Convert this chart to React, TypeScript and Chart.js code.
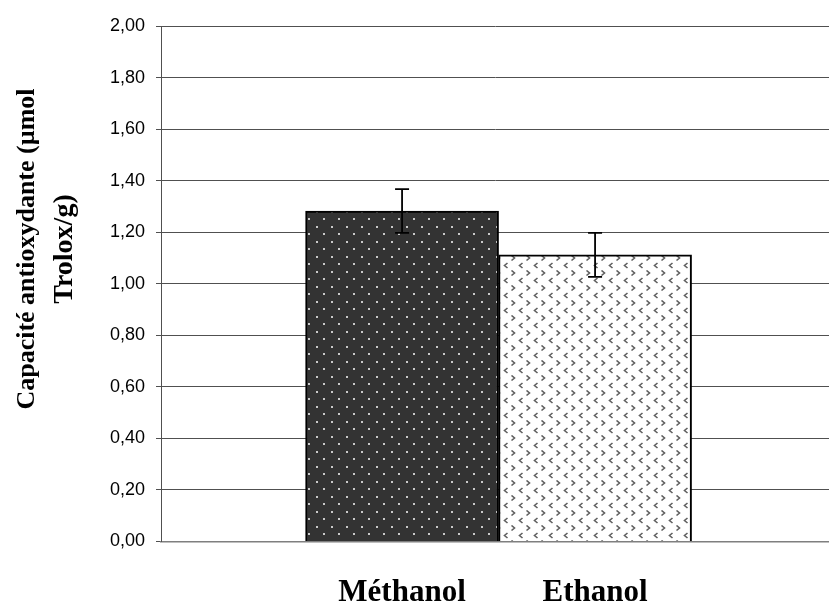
import React, { useEffect, useRef } from 'react';
import { Chart, registerables } from 'chart.js';

Chart.register(...registerables);

const categories = ['Méthanol', 'Ethanol'];
const values = [1.282, 1.112];
const errors = [0.085, 0.085];
const yTickLabels = ['0,00', '0,20', '0,40', '0,60', '0,80', '1,00', '1,20', '1,40', '1,60', '1,80', '2,00'];
const yTitleLines = ['Capacité antioxydante (µmol', 'Trolox/g)'];

function makeDotPattern(ctx: CanvasRenderingContext2D): CanvasPattern | string {
  const c = document.createElement('canvas');
  c.width = 15;
  c.height = 15;
  const g = c.getContext('2d')!;
  g.fillStyle = '#333333';
  g.fillRect(0, 0, 15, 15);
  g.fillStyle = '#bfbfbf';
  g.fillRect(1, 1, 2, 2);
  g.fillRect(8, 8, 2, 2);
  g.fillStyle = '#e6e6e6';
  g.fillRect(1.5, 1.5, 1, 1);
  g.fillRect(8.5, 8.5, 1, 1);
  return ctx.createPattern(c, 'repeat') || '#333333';
}

function makeChevronPattern(ctx: CanvasRenderingContext2D): CanvasPattern | string {
  const c = document.createElement('canvas');
  c.width = 15;
  c.height = 15;
  const g = c.getContext('2d')!;
  g.fillStyle = '#ffffff';
  g.fillRect(0, 0, 15, 15);
  g.strokeStyle = '#606060';
  g.lineWidth = 1.6;
  // ">" mark
  g.beginPath();
  g.moveTo(1.5, 0.5);
  g.lineTo(4.5, 3);
  g.lineTo(1.5, 5.5);
  g.stroke();
  // "<" mark
  g.beginPath();
  g.moveTo(12.5, 8);
  g.lineTo(9.5, 10.5);
  g.lineTo(12.5, 13);
  g.stroke();
  return ctx.createPattern(c, 'repeat') || '#ffffff';
}

const errorBarPlugin = {
  id: 'errorBars',
  afterDatasetsDraw(chart: any) {
    const meta = chart.getDatasetMeta(0);
    const yScale = chart.scales.y;
    const ctx = chart.ctx as CanvasRenderingContext2D;
    ctx.save();
    ctx.strokeStyle = '#000000';
    ctx.lineWidth = 1.8;
    meta.data.forEach((bar: any, i: number) => {
      const x = bar.x;
      const top = yScale.getPixelForValue(values[i] + errors[i]);
      const bot = yScale.getPixelForValue(values[i] - errors[i]);
      ctx.beginPath();
      ctx.moveTo(x, top);
      ctx.lineTo(x, bot);
      ctx.moveTo(x - 7, top);
      ctx.lineTo(x + 7, top);
      ctx.moveTo(x - 7, bot);
      ctx.lineTo(x + 7, bot);
      ctx.stroke();
    });
    ctx.restore();
  },
};

const yTitlePlugin = {
  id: 'yTitle',
  afterDraw(chart: any) {
    const ctx = chart.ctx as CanvasRenderingContext2D;
    ctx.save();
    ctx.translate(27, 249);
    ctx.rotate(-Math.PI / 2);
    ctx.font = 'bold 26px "Liberation Serif"';
    ctx.fillStyle = '#000000';
    ctx.textAlign = 'center';
    ctx.textBaseline = 'middle';
    ctx.fillText(yTitleLines[0], 0, 0);
    ctx.font = 'bold 28px "Liberation Serif"';
    ctx.fillText(yTitleLines[1], 0, 38);
    ctx.restore();
  },
};

export default function App() {
  const canvasRef = useRef<HTMLCanvasElement | null>(null);

  useEffect(() => {
    document.body.style.margin = '0';
    const canvas = canvasRef.current!;
    const ctx = canvas.getContext('2d')!;
    const patterns = [makeDotPattern(ctx), makeChevronPattern(ctx)];

    const chart = new Chart(canvas, {
      type: 'bar',
      data: {
        datasets: [
          {
            data: values.map((v, i) => ({ x: i, y: v })),
            backgroundColor: patterns as any,
            borderColor: '#000000',
            borderWidth: 2,
            barPercentage: 1,
            categoryPercentage: 1,
          },
        ],
      },
      options: {
        animation: false,
        responsive: false,
        devicePixelRatio: 1,
        layout: { padding: { top: 26, right: 0, left: 0, bottom: 0 } },
        plugins: {
          legend: { display: false },
          tooltip: { enabled: false },
        },
        scales: {
          x: {
            type: 'linear',
            min: -1.249,
            max: 2.212,
            offset: false,
            grid: { display: false, offset: false },
            border: { display: true, color: '#7f7f7f', width: 1.5 },
            afterBuildTicks: (scale: any) => {
              scale.ticks = categories.map((_, i) => ({ value: i }));
            },
            afterFit: (scale: any) => {
              scale.height = 64.5;
            },
            ticks: {
              autoSkip: false,
              maxRotation: 0,
              padding: 25,
              color: '#000000',
              font: { family: '"Liberation Serif"', size: 31, weight: 'bold' },
              callback: (_v: any, i: number) => categories[i],
            },
          },
          y: {
            min: 0,
            max: 2,
            ticks: {
              stepSize: 0.2,
              padding: 11,
              color: '#000000',
              font: { family: '"Liberation Sans"', size: 18 },
              callback: (_v: any, i: number) => yTickLabels[i],
            },
            grid: {
              color: '#505050',
              lineWidth: 1,
              drawTicks: true,
              tickLength: 5,
              tickColor: '#505050',
            },
            border: { display: true, color: '#505050', width: 1 },
            afterFit: (scale: any) => {
              scale.width = 161;
            },
          },
        },
      },
      plugins: [errorBarPlugin, yTitlePlugin],
    });

    return () => {
      chart.destroy();
    };
  }, []);

  return (
    <div style={{ width: 829, height: 606, position: 'relative', background: '#ffffff' }}>
      <canvas ref={canvasRef} width={829} height={606} style={{ display: 'block' }} />
    </div>
  );
}
